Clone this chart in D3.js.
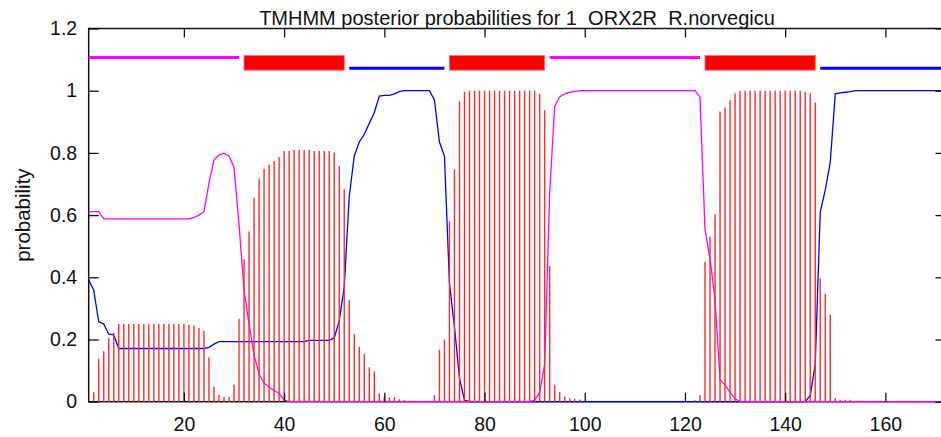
<!DOCTYPE html>
<html>
<head>
<meta charset="utf-8">
<script src="https://cdn.jsdelivr.net/npm/d3@7"></script>
<style>
  body { margin: 0; background: #fff; }
  svg { display: block; }
</style>
</head>
<body>
<div id="chart"></div>
<script>
  // posterior probabilities, residue 1..172
  const pTMhelix = [
    0, 0.03, 0.138, 0.162, 0.205, 0.222, 0.25, 0.25, 0.25, 0.25,
    0.25, 0.25, 0.25, 0.25, 0.25, 0.25, 0.25, 0.25, 0.25, 0.25,
    0.247, 0.245, 0.237, 0.228, 0.143, 0.049, 0.022, 0.016, 0.016, 0.055,
    0.267, 0.458, 0.547, 0.656, 0.717, 0.749, 0.763, 0.774, 0.787, 0.806,
    0.806, 0.809, 0.809, 0.809, 0.809, 0.806, 0.806, 0.806, 0.806, 0.801,
    0.758, 0.683, 0.328, 0.218, 0.177, 0.153, 0.111, 0.097, 0.027, 0.017,
    0.014, 0.015, 0.008, 0.006, 0, 0, 0, 0, 0, 0.021,
    0.167, 0.2, 0.58, 0.747, 0.965, 0.997, 1, 1, 1, 1,
    1, 1, 1, 1, 1, 1, 1, 1, 1, 1,
    0.989, 0.937, 0.436, 0.054, 0.031, 0.017, 0.011, 0.009, 0.007, 0,
    0, 0, 0, 0, 0, 0, 0, 0, 0, 0,
    0, 0, 0, 0, 0, 0, 0, 0, 0, 0,
    0, 0.005, 0.021, 0.449, 0.53, 0.603, 0.933, 0.946, 0.969, 0.992,
    1, 1, 1, 1, 1, 1, 1, 1, 1, 1,
    1, 1, 1, 0.997, 0.993, 0.962, 0.396, 0.346, 0.28, 0.011,
    0.006, 0.006, 0.006, 0, 0, 0, 0, 0, 0, 0,
    0, 0, 0, 0, 0, 0, 0, 0, 0, 0,
    0, 0
  ];

  const pInside = [
    0.391, 0.359, 0.257, 0.25, 0.217, 0.215, 0.171, 0.171, 0.171, 0.171,
    0.171, 0.171, 0.171, 0.171, 0.171, 0.171, 0.171, 0.171, 0.171, 0.171,
    0.171, 0.171, 0.171, 0.171, 0.175, 0.185, 0.193, 0.193, 0.193, 0.193,
    0.193, 0.193, 0.193, 0.193, 0.193, 0.193, 0.193, 0.193, 0.193, 0.193,
    0.193, 0.193, 0.193, 0.193, 0.197, 0.197, 0.197, 0.197, 0.197, 0.205,
    0.26, 0.37, 0.66, 0.79, 0.835, 0.86, 0.895, 0.93, 0.983, 0.985,
    0.985, 0.99, 0.997, 1, 1, 1, 1, 1, 1, 0.97,
    0.835, 0.79, 0.38, 0.24, 0.075, 0.005, 0, 0, 0, 0,
    0, 0, 0, 0, 0, 0, 0, 0, 0, 0,
    0, 0, 0, 0, 0, 0, 0, 0, 0, 0,
    0, 0, 0, 0, 0, 0, 0, 0, 0, 0,
    0, 0, 0, 0, 0, 0, 0, 0, 0, 0,
    0, 0, 0, 0, 0, 0, 0, 0, 0, 0,
    0, 0, 0, 0, 0, 0, 0, 0, 0, 0,
    0, 0, 0, 0, 0.02, 0.12, 0.61, 0.68, 0.77, 0.99,
    0.993, 0.995, 0.997, 1, 1, 1, 1, 1, 1, 1,
    1, 1, 1, 1, 1, 1, 1, 1, 1, 1,
    1, 1
  ];

  const pOutside = [
    0.611, 0.611, 0.611, 0.588, 0.588, 0.588, 0.588, 0.588, 0.588, 0.588,
    0.588, 0.588, 0.588, 0.588, 0.588, 0.588, 0.588, 0.588, 0.588, 0.588,
    0.588, 0.592, 0.6, 0.611, 0.702, 0.777, 0.793, 0.799, 0.79, 0.754,
    0.57, 0.36, 0.25, 0.15, 0.09, 0.06, 0.047, 0.036, 0.027, 0.005,
    0, 0, 0, 0, 0, 0, 0, 0, 0, 0,
    0, 0, 0, 0, 0, 0, 0, 0, 0, 0,
    0, 0, 0, 0, 0, 0, 0, 0, 0, 0,
    0, 0, 0, 0, 0, 0, 0, 0, 0, 0,
    0, 0, 0, 0, 0, 0, 0, 0, 0, 0.005,
    0.03, 0.12, 0.67, 0.95, 0.98, 0.99, 0.995, 0.998, 1, 1,
    1, 1, 1, 1, 1, 1, 1, 1, 1, 1,
    1, 1, 1, 1, 1, 1, 1, 1, 1, 1,
    1, 1, 0.98, 0.555, 0.46, 0.33, 0.07, 0.054, 0.03, 0.01,
    0, 0, 0, 0, 0, 0, 0, 0, 0, 0,
    0, 0, 0, 0, 0, 0, 0, 0, 0, 0,
    0, 0, 0, 0, 0, 0, 0, 0, 0, 0,
    0, 0, 0, 0, 0, 0, 0, 0, 0, 0,
    0, 0
  ];

  // predicted topology segments
  const segStart = [1, 32, 53, 73, 93, 124, 147];
  const segEnd = [31, 52, 72, 92, 123, 146, 172];
  const segType = ['outside', 'TMhelix', 'inside', 'TMhelix', 'outside', 'TMhelix', 'inside'];

  const xTicks = [20, 40, 60, 80, 100, 120, 140, 160];
  const yTicks = [0, 0.2, 0.4, 0.6, 0.8, 1, 1.2];

  const titleText = 'TMHMM posterior probabilities for 1  ORX2R  R.norvegicu';
  const yLabel = 'probability';

  const width = 941, height = 437;
  const mLeft = 88.7, mRight = 945.5, mTop = 28.5, mBottom = 401.7;
  const fontFam = '"Liberation Sans", Arial, Helvetica, sans-serif';

  const x = d3.scaleLinear().domain([1, 172]).range([mLeft, mRight]);
  const y = d3.scaleLinear().domain([0, 1.2]).range([mBottom, mTop]);

  const svg = d3.select('#chart')
    .append('svg')
    .attr('width', width)
    .attr('height', height);

  const residues = pTMhelix.map((d, i) => i + 1);

  // frame
  svg.append('rect')
    .attr('x', mLeft)
    .attr('y', mTop)
    .attr('width', mRight - mLeft)
    .attr('height', mBottom - mTop)
    .attr('fill', 'none')
    .attr('stroke', '#111')
    .attr('stroke-width', 1.5);

  // curves
  let line = function (vals) {
    return d3.line()
      .x((d, i) => x(residues[i]))
      .y(d => y(d))(vals);
  };

  svg.append('path')
    .attr('d', line(pInside))
    .attr('fill', 'none')
    .attr('stroke', '#0000ff')
    .attr('stroke-width', 1.3);

  svg.append('path')
    .attr('d', line(pOutside))
    .attr('fill', 'none')
    .attr('stroke', '#ff00ff')
    .attr('stroke-width', 1.3);

  // TM helix impulses
  svg.append('g')
    .selectAll('line')
    .data(pTMhelix)
    .join('line')
    .attr('x1', (d, i) => x(residues[i]))
    .attr('x2', (d, i) => x(residues[i]))
    .attr('y1', y(0))
    .attr('y2', d => y(d))
    .attr('stroke', '#ff2a2a')
    .attr('stroke-width', 1.4);

  // topology bar on top
  const segs = segStart.map((s, i) => ({ s: s, e: segEnd[i], t: segType[i] }));
  const bar = svg.append('g');

  bar.selectAll('line')
    .data(segs.filter(d => d.t !== 'TMhelix'))
    .join('line')
    .attr('x1', d => x(d.s))
    .attr('x2', d => x(d.e))
    .attr('y1', d => y(d.t === 'outside' ? 1.107 : 1.072))
    .attr('y2', d => y(d.t === 'outside' ? 1.107 : 1.072))
    .attr('stroke', d => d.t === 'outside' ? '#ff00ff' : '#0000ff')
    .attr('stroke-width', 3);

  bar.selectAll('rect')
    .data(segs.filter(d => d.t === 'TMhelix'))
    .join('rect')
    .attr('x', d => x(d.s))
    .attr('width', d => x(d.e) - x(d.s))
    .attr('y', y(1.113))
    .attr('height', y(1.066) - y(1.113))
    .attr('fill', '#ff0000')
    .attr('stroke', '#ff6a6a')
    .attr('stroke-width', 0.8);

  // axes, ticks pointing inward
  let styleAxis = function (g) {
    g.select('.domain').remove();
    g.selectAll('.tick line').attr('stroke', '#111').attr('stroke-width', 1.3);
    g.selectAll('text')
      .attr('fill', '#111')
      .style('font-family', fontFam)
      .style('font-size', '19.5px');
  };

  svg.append('g')
    .attr('transform', `translate(${mLeft},0)`)
    .call(d3.axisLeft(y).tickValues(yTicks).tickSize(-10).tickPadding(11.5)
      .tickFormat(d3.format('~g')))
    .call(styleAxis);

  svg.append('g')
    .attr('transform', `translate(${mRight},0)`)
    .call(d3.axisRight(y).tickValues(yTicks).tickSize(-10).tickFormat(''))
    .call(styleAxis);

  svg.append('g')
    .attr('transform', `translate(0,${mBottom})`)
    .call(d3.axisBottom(x).tickValues(xTicks).tickSize(-9).tickPadding(15))
    .call(styleAxis);

  svg.append('g')
    .attr('transform', `translate(0,${mTop})`)
    .call(d3.axisTop(x).tickValues(xTicks).tickSize(-9).tickFormat(''))
    .call(styleAxis);

  // title and y label
  svg.append('text')
    .attr('x', 517)
    .attr('y', 25)
    .attr('text-anchor', 'middle')
    .style('white-space', 'pre')
    .style('font-family', fontFam)
    .style('font-size', '20px')
    .attr('fill', '#111')
    .text(titleText);

  svg.append('text')
    .attr('transform', `translate(30,${(mTop + mBottom) / 2}) rotate(-90)`)
    .attr('text-anchor', 'middle')
    .style('font-family', fontFam)
    .style('font-size', '20.5px')
    .attr('fill', '#111')
    .text(yLabel);
</script>
</body>
</html>
